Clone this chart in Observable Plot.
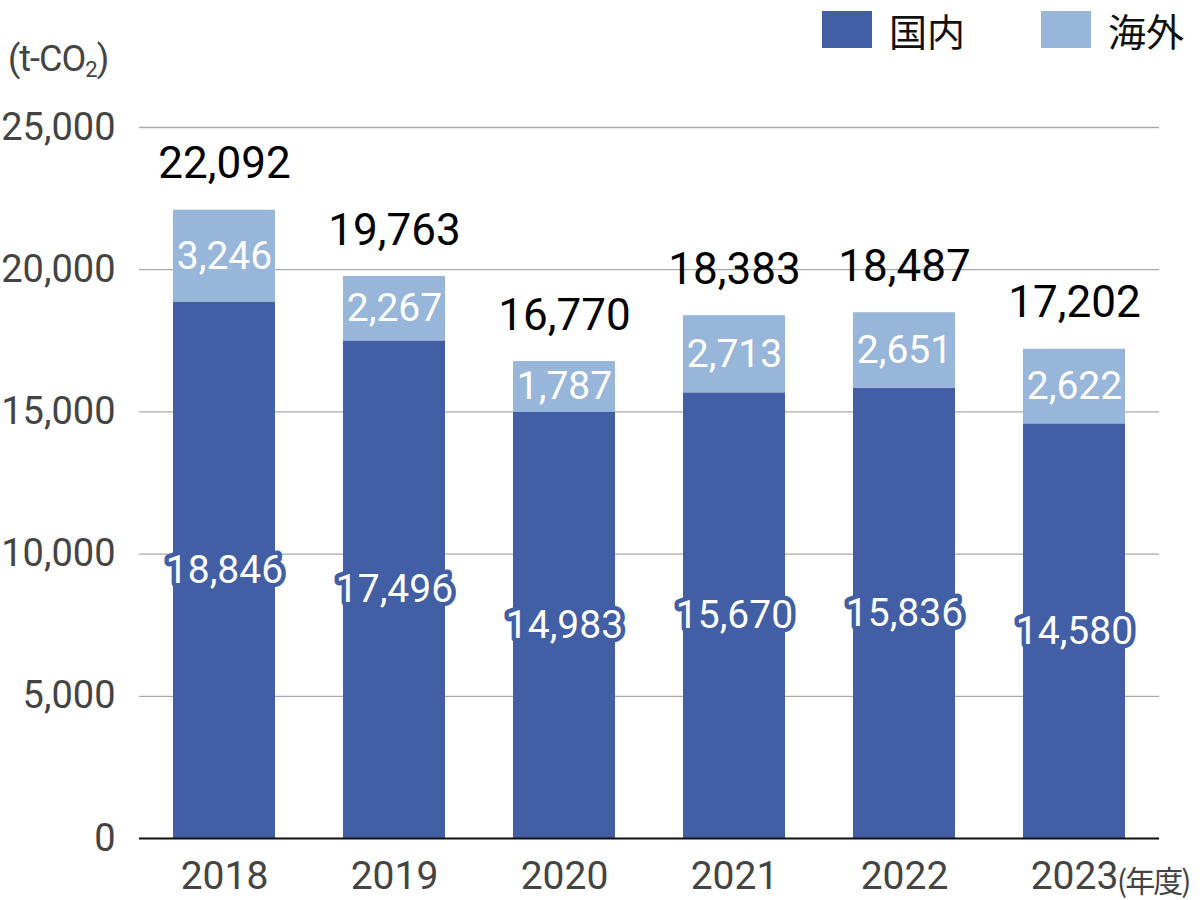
<!DOCTYPE html>
<html><head><meta charset="utf-8">
<script src="https://cdn.jsdelivr.net/npm/d3@7"></script>
<script src="https://cdn.jsdelivr.net/npm/@observablehq/plot@0.6"></script>
<style>
body{margin:0;background:#fff;font-family:Roboto,"Noto Sans CJK JP",sans-serif;}
#wrap{position:relative;width:1200px;height:900px;overflow:hidden;}
#wrap svg{position:absolute;left:0;top:0;}
.lg{position:absolute;top:2px;display:flex;align-items:center;font-family:"Noto Sans CJK JP",sans-serif;font-size:38px;color:#111;}
.sw{width:50px;height:37px;margin-right:17px;}
#unit{position:absolute;left:8px;top:38px;font-size:36px;color:#444;font-family:Roboto,sans-serif;letter-spacing:-1px;}
#unit sub{font-size:22px;vertical-align:-6px;}
#nendo{position:absolute;left:1117px;top:864px;font-size:30px;line-height:1;white-space:nowrap;color:#444;font-family:"Noto Sans CJK JP",sans-serif;letter-spacing:-2px;}
</style></head>
<body><div id="wrap"></div>
<script>
const years = ["2018","2019","2020","2021","2022","2023"];
const domestic = [18846, 17496, 14983, 15670, 15836, 14580];
const overseas = [3246, 2267, 1787, 2713, 2651, 2622];
const totals = [22092, 19763, 16770, 18383, 18487, 17202];
const yTicks = [0, 5000, 10000, 15000, 20000, 25000];
const series = ["国内", "海外"];
const colors = ["#425FA5", "#97B6D9"];

const rows = [];
years.forEach((yr, i) => {
  rows.push({year: yr, type: series[0], y1: 0, y2: domestic[i], v: domestic[i]});
  rows.push({year: yr, type: series[1], y1: domestic[i], y2: domestic[i] + overseas[i], v: overseas[i]});
});
rows.forEach(r => r.mid = (r.y1 + r.y2) / 2);
const tot = years.map((yr, i) => ({year: yr, total: totals[i]}));
const fmt = d3.format(",");

const plot = Plot.plot({
  width: 1200, height: 900,
  marginLeft: 139, marginRight: 41, marginTop: 127, marginBottom: 62,
  style: {fontFamily: "Roboto, sans-serif", background: "transparent"},
  x: {domain: years, paddingInner: 0.4, paddingOuter: 0.2, label: null},
  y: {domain: [0, 25000], ticks: yTicks, label: null},
  color: {domain: series, range: colors},
  marks: [
    Plot.ruleY(yTicks.filter(d => d > 0), {stroke: "#aaa", strokeWidth: 1.3}),
    Plot.barY(rows, {x: "year", y1: "y1", y2: "y2", fill: "type"}),
    Plot.ruleY([0], {stroke: "#111", strokeWidth: 2}),
    Plot.axisY({ticks: yTicks, tickSize: 0, tickPadding: 24, tickFormat: fmt, fontSize: 38, fill: "#444", label: null}),
    Plot.axisX({tickSize: 0, tickPadding: 23, fontSize: 39, fill: "#444", label: null}),
    Plot.text(rows.filter(r => r.type === series[0]), {x: "year", y: "mid", text: d => fmt(d.v), fill: "white", stroke: colors[0], strokeWidth: 9, strokeLinejoin: "round", fontSize: 39}),
    Plot.text(rows.filter(r => r.type === series[1]), {x: "year", y: "mid", text: d => fmt(d.v), fill: "white", fontSize: 39}),
    Plot.text(tot, {x: "year", y: "total", text: d => fmt(d.total), dy: -46, fontSize: 44, fill: "#000"})
  ]
});
const wrap = document.getElementById("wrap");
wrap.appendChild(plot);

const unit = document.createElement("div");
unit.id = "unit"; unit.innerHTML = "(t-CO<sub>2</sub>)";
wrap.appendChild(unit);

const nendo = document.createElement("div");
nendo.id = "nendo"; nendo.textContent = "(年度)";
wrap.appendChild(nendo);

const legendX = [822, 1041];
series.forEach((s, i) => {
  const d = document.createElement("div");
  d.className = "lg"; d.style.left = legendX[i] + "px";
  d.innerHTML = `<div class="sw" style="background:${colors[i]}"></div><span>${s}</span>`;
  wrap.appendChild(d);
});
</script></body></html>
